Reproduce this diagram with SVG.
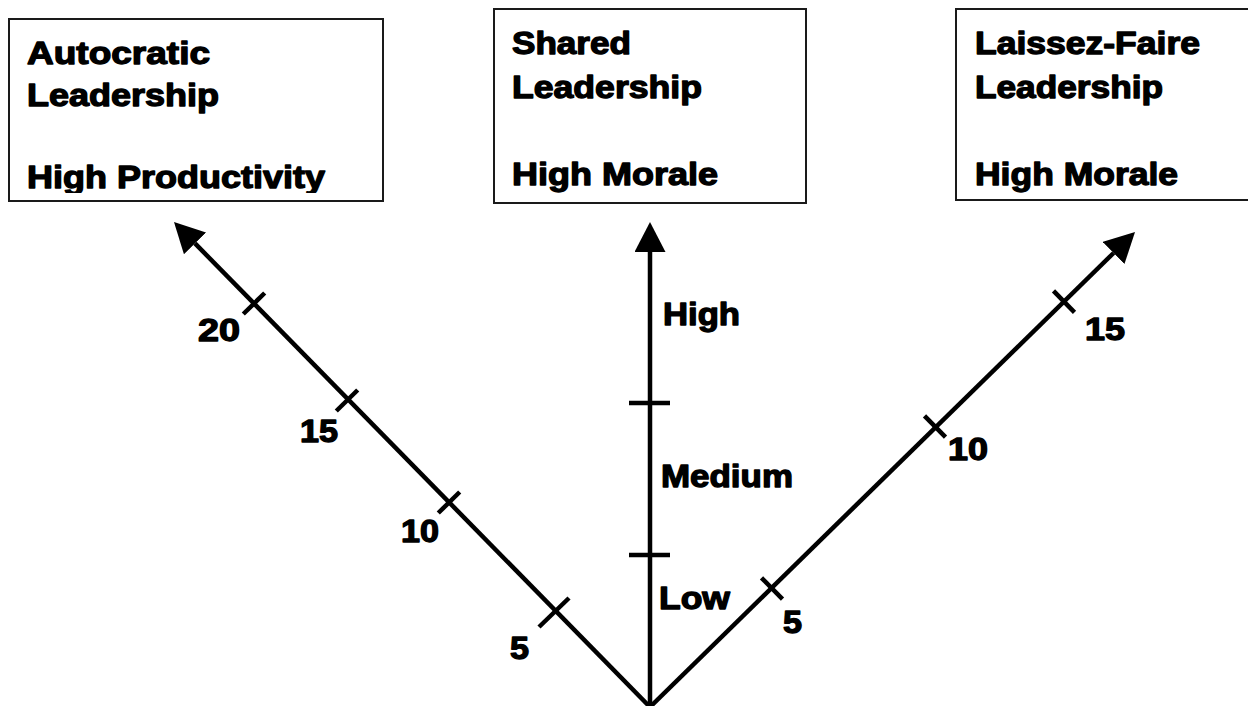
<svg xmlns="http://www.w3.org/2000/svg" width="1248" height="706" viewBox="0 0 1248 706">
<style>
.box{fill:#fff;stroke:#1a1a1a;stroke-width:2}
.t{font-family:"Liberation Sans",Arial,sans-serif;font-weight:bold;font-size:31px;fill:#000;stroke:#000;stroke-width:1.3;stroke-linejoin:round}
.ax{stroke:#000;stroke-width:4.5;fill:none}
.tk{stroke:#000;stroke-width:4.5}
</style>
<defs>
<marker id="ah" markerUnits="userSpaceOnUse" markerWidth="34" markerHeight="34" refX="0" refY="15.5" orient="auto" viewBox="0 0 34 34">
<path d="M0,0 L30,15.5 L0,31 z" fill="#000"/>
</marker>
<clipPath id="clip1"><rect x="9" y="19" width="374" height="174"/></clipPath>
</defs>
<rect width="1248" height="706" fill="#fff"/>
<g id="node-autocratic">
<rect class="box" x="9" y="19" width="374" height="182"/>
<text class="t" x="27" y="64" textLength="183" lengthAdjust="spacingAndGlyphs">Autocratic</text>
<text class="t" x="27" y="106" textLength="192" lengthAdjust="spacingAndGlyphs">Leadership</text>
<text class="t" x="27" y="188" textLength="298" lengthAdjust="spacingAndGlyphs" clip-path="url(#clip1)">High Productivity</text>
</g>
<g id="node-shared">
<rect class="box" x="494" y="9" width="312" height="194"/>
<text class="t" x="512" y="54" textLength="119" lengthAdjust="spacingAndGlyphs">Shared</text>
<text class="t" x="512" y="98" textLength="190" lengthAdjust="spacingAndGlyphs">Leadership</text>
<text class="t" x="512" y="185" textLength="206" lengthAdjust="spacingAndGlyphs">High Morale</text>
</g>
<g id="node-laissez">
<rect class="box" x="956" y="9" width="310" height="191"/>
<text class="t" x="975" y="54" textLength="225" lengthAdjust="spacingAndGlyphs">Laissez-Faire</text>
<text class="t" x="975" y="98" textLength="188" lengthAdjust="spacingAndGlyphs">Leadership</text>
<text class="t" x="975" y="185" textLength="203" lengthAdjust="spacingAndGlyphs">High Morale</text>
</g>
<g id="connectors">
<line class="ax" x1="650" y1="707" x2="195" y2="243.4" marker-end="url(#ah)"/>
<line class="ax" x1="650" y1="707" x2="650" y2="252" marker-end="url(#ah)"/>
<line class="ax" x1="650" y1="707" x2="1113.6" y2="253" marker-end="url(#ah)"/>
<line class="tk" x1="629" y1="403" x2="670" y2="403"/>
<line class="tk" x1="629" y1="555" x2="670" y2="555"/>
<line class="tk" x1="243.3" y1="314" x2="264.7" y2="293"/>
<line class="tk" x1="336.3" y1="411" x2="357.7" y2="390"/>
<line class="tk" x1="438.3" y1="513" x2="459.7" y2="492"/>
<line class="tk" x1="539" y1="627" x2="569" y2="598"/>
<line class="tk" x1="761.5" y1="577.8" x2="782.5" y2="599.2"/>
<line class="tk" x1="924.5" y1="415.8" x2="945.5" y2="437.2"/>
<line class="tk" x1="1053.5" y1="290.9" x2="1074.5" y2="312.3"/>
</g>
<g id="labels">
<text class="t" x="663" y="325" textLength="77" lengthAdjust="spacingAndGlyphs">High</text>
<text class="t" x="661" y="487" textLength="132" lengthAdjust="spacingAndGlyphs">Medium</text>
<text class="t" x="659" y="609" textLength="71" lengthAdjust="spacingAndGlyphs">Low</text>
<text class="t" x="198" y="341" textLength="42" lengthAdjust="spacingAndGlyphs">20</text>
<text class="t" x="300" y="442" textLength="38" lengthAdjust="spacingAndGlyphs">15</text>
<text class="t" x="401" y="542" textLength="38" lengthAdjust="spacingAndGlyphs">10</text>
<text class="t" x="510" y="659" textLength="19" lengthAdjust="spacingAndGlyphs">5</text>
<text class="t" x="783" y="633" textLength="19" lengthAdjust="spacingAndGlyphs">5</text>
<text class="t" x="948" y="460" textLength="40" lengthAdjust="spacingAndGlyphs">10</text>
<text class="t" x="1085" y="340" textLength="40" lengthAdjust="spacingAndGlyphs">15</text>
</g>
</svg>
